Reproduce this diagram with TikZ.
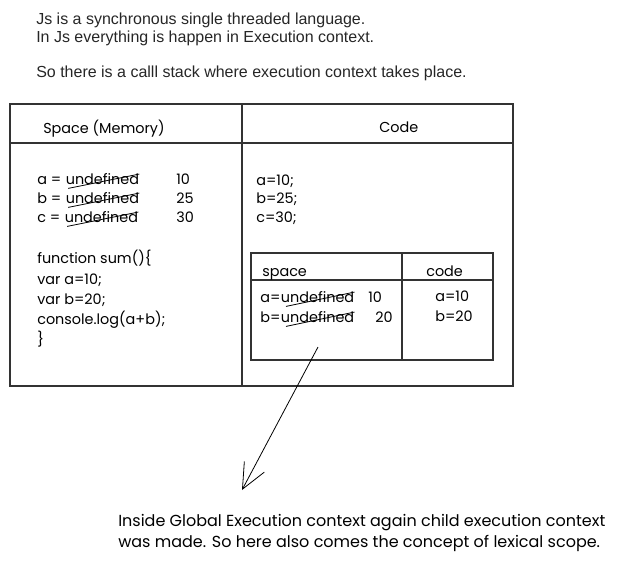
\documentclass[tikz,border=0pt]{standalone}
\usepackage{fontspec}
\setmainfont{Liberation Sans}
\newfontfamily\handfont{Poppins}
\usetikzlibrary{arrows.meta, positioning}

\begin{document}
\begin{tikzpicture}[x=0.75pt, y=-0.75pt,
        intro/.style={anchor=base west, inner sep=0pt, font=\fontsize{12}{14}\selectfont, text=black!85},
        hand/.style={anchor=base west, inner sep=0pt, font=\handfont\fontsize{10.8}{12}\selectfont},
        note/.style={anchor=base west, inner sep=0pt, font=\handfont\fontsize{12}{14}\selectfont},
        frame/.style={draw=black!80, line width=0.8pt},
        strike/.style={black, line width=0.6pt},
        arrow/.style={-{Straight Barb[length=19pt, width=17pt]}, line width=0.6pt}
    ]
        \useasboundingbox (0,0) rectangle (627,561);

        % Einleitung
        \node[intro] (l1) at (36,24) {Js is a synchronous single threaded language.};
        \node[intro] (l2) at (36,42) {In Js everything is happen in Execution context.};
        \node[intro] (l3) at (36,77) {So there is a calll stack where execution context takes place.};

        % Globaler Ausfuehrungskontext
        \draw[frame] (10,104) rectangle (513,386);
        \draw[frame] (242,104) -- (242,386);
        \draw[frame] (10,143) -- (513,143);
        \node[hand] (memhead) at (43,133) {Space (Memory)};
        \node[hand] (codehead) at (379,132) {Code};

        \node[hand] (va) at (37,184) {a = };
        \node[hand, right=3pt of va.base east, anchor=base west] (ua) {undefined};
        \node[hand] (na) at (176,184) {10};
        \node[hand] (vb) at (37,203) {b = };
        \node[hand, right=3pt of vb.base east, anchor=base west] (ub) {undefined};
        \node[hand] (nb) at (176,203) {25};
        \node[hand] (vc) at (37,222) {c = };
        \node[hand, right=3pt of vc.base east, anchor=base west] (uc) {undefined};
        \node[hand] (nc) at (176,222) {30};
        \draw[strike] ([xshift=2pt, yshift=-3pt]ua.south west) -- ([yshift=-1pt]ua.north east);
        \draw[strike] ([xshift=2pt, yshift=-3pt]ub.south west) -- ([yshift=-1pt]ub.north east);
        \draw[strike] ([xshift=2pt, yshift=-3pt]uc.south west) -- ([yshift=-1pt]uc.north east);

        \node[hand] (fn1) at (37,263) {function sum()\{};
        \node[hand] (fn2) at (37,284) {var a=10;};
        \node[hand] (fn3) at (37,304) {var b=20;};
        \node[hand] (fn4) at (37,324) {console.log(a+b);};
        \node[hand] (fn5) at (37,344) {\}};

        \node[hand] (ca) at (256,185) {a=10;};
        \node[hand] (cb) at (256,203) {b=25;};
        \node[hand] (cc) at (256,222) {c=30;};

        % Kind-Kontext
        \draw[frame] (251,253) rectangle (493,360);
        \draw[frame] (402,253) -- (402,360);
        \draw[frame] (251,280) -- (493,280);
        \node[hand] (subspace) at (262,276) {space};
        \node[hand] (subcode) at (426,276) {code};

        \node[hand] (sa) at (260,302) {a=};
        \node[hand, right=0pt of sa.base east, anchor=base west] (usa) {undefined};
        \node[hand] (sna) at (368,302) {10};
        \node[hand] (sb) at (260,322) {b=};
        \node[hand, right=0pt of sb.base east, anchor=base west] (usb) {undefined};
        \node[hand] (snb) at (375,322) {20};
        \draw[strike] ([xshift=4pt, yshift=-3pt]usa.south west) -- ([yshift=-1pt]usa.north east);
        \draw[strike] ([xshift=4pt, yshift=-3pt]usb.south west) -- ([yshift=-1pt]usb.north east);
        \node[hand] (sca) at (435,301) {a=10};
        \node[hand] (scb) at (435,321) {b=20};

        % Pfeil zur Erklaerung
        \coordinate (from) at (318,347);
        \coordinate (to) at (242,490);
        \draw[arrow] (from) -- (to);

        \node[note] (note1) at (118,526) {Inside Global Execution context again child execution context};
        \node[note] (note2) at (118,547) {was made. So here also comes the concept of lexical scope.};
    \end{tikzpicture}
\end{document}
